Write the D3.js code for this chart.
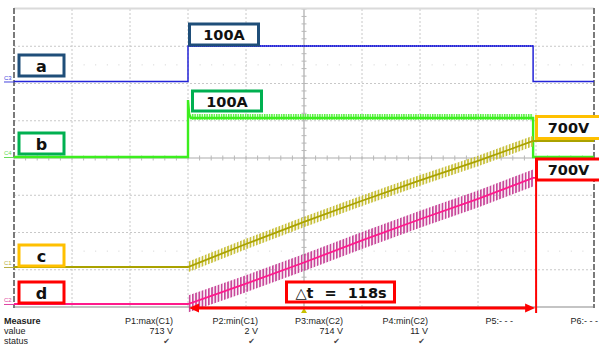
<!DOCTYPE html>
<html>
<head>
<meta charset="utf-8">
<script src="https://cdn.jsdelivr.net/npm/d3@7"></script>
<style>
body{margin:0;background:#fff;}
svg{display:block;}
</style>
</head>
<body>
<script>
// scope data (time in s, currents in A, voltages in V)
var timeA = [0, 60, 60, 179, 179, 200];
var currA = [0, 0, 100, 100, 0, 0];
var timeB = [0, 60, 60, 60.4, 61, 179, 179, 200];
var currB = [0, 0, 146, 110, 100, 100, 0, 0];
var timeC = [0, 60, 80, 100, 120, 140, 160, 179, 200];
var voltC = [0, 0, 130, 255, 375, 490, 600, 713, 713];
var timeD = [0, 60, 80, 100, 120, 140, 160, 179, 200];
var voltD = [0, 0, 115, 235, 360, 480, 595, 714, 714];
var rippleA = 3, rippleB = 10, rippleC = 30, rippleD = 48;
var rampStart = 60, rampEnd = 179;
var deltaT = "△t = 118s";

var measNames = ["P1:max(C1)", "P2:min(C1)", "P3:max(C2)", "P4:min(C2)", "P5:- - -", "P6:- - -"];
var measValues = ["713 V", "2 V", "714 V", "11 V", "", ""];
var measOk = [1, 1, 1, 1, 0, 0];

var W = 599, H = 346;
var svg = d3.select("body").append("svg").attr("width", W).attr("height", H);

var x = d3.scaleLinear().domain([0, 200]).range([14, 594]);
var yDiv = d3.scaleLinear().domain([-4, 4]).range([307, 9]);

// channel offset (div) and units per div
function chan(off, perDiv) {
    return function (v) { return yDiv(off + v / perDiv); };
}
var yA = chan(2.054, 105), yB = chan(0.027, 95.5), yC = chan(-2.926, 210.8), yD = chan(-3.919, 211);

var defs = svg.append("defs");
function stripes(id, col, w, frac) {
    var p = defs.append("pattern").attr("id", id)
        .attr("patternUnits", "userSpaceOnUse")
        .attr("width", w).attr("height", 20);
    p.append("rect").attr("x", 0).attr("y", 0).attr("width", w * frac).attr("height", 20).attr("fill", col);
}
stripes("stC", "#c4bc30", 3.2, 0.55);
stripes("stD", "#c43e94", 3.2, 0.55);
stripes("stB", "#4cf032", 2.4, 0.6);
stripes("stA", "#2a2ae0", 2.0, 0.5);

// grid
var g = svg.append("g");
d3.range(20, 200, 20).filter(function (t) { return t != 100; }).forEach(function (t) {
    g.append("line").attr("x1", x(t)).attr("x2", x(t)).attr("y1", 9).attr("y2", 307)
        .attr("stroke", "#c8c8c8").attr("stroke-dasharray", "2,2");
});
[-3, -2, -1, 1, 2, 3].forEach(function (d) {
    g.append("line").attr("x1", 14).attr("x2", 594).attr("y1", yDiv(d)).attr("y2", yDiv(d))
        .attr("stroke", "#c8c8c8").attr("stroke-dasharray", "2,2");
});
// faint mid dots
[2.5, -2.5].forEach(function (d) {
    d3.range(0.2, 10, 0.2).forEach(function (k) {
        g.append("rect").attr("x", 14 + k * 58).attr("y", yDiv(d) - 0.5).attr("width", 1).attr("height", 1).attr("fill", "#d0d0d0");
    });
});
// center axes with ticks
g.append("line").attr("x1", x(100)).attr("x2", x(100)).attr("y1", 9).attr("y2", 307).attr("stroke", "#ababab").attr("stroke-width", 1.2);
g.append("line").attr("x1", 14).attr("x2", 594).attr("y1", yDiv(0)).attr("y2", yDiv(0)).attr("stroke", "#ababab").attr("stroke-width", 1.2);
d3.range(0, 10.01, 0.2).forEach(function (k) {
    var xx = 14 + k * 58;
    g.append("line").attr("x1", xx).attr("x2", xx).attr("y1", yDiv(0) - 2.5).attr("y2", yDiv(0) + 2.5).attr("stroke", "#b8b8b8");
});
d3.range(-4, 4.01, 0.2).forEach(function (d) {
    g.append("line").attr("x1", x(100) - 2.5).attr("x2", x(100) + 2.5).attr("y1", yDiv(d)).attr("y2", yDiv(d)).attr("stroke", "#b8b8b8");
});
// borders
g.append("line").attr("x1", 14).attr("x2", 594).attr("y1", 8.5).attr("y2", 8.5).attr("stroke", "#dadada").attr("stroke-width", 2);
g.append("line").attr("x1", 14).attr("x2", 594).attr("y1", 307).attr("y2", 307).attr("stroke", "#b0b0b0").attr("stroke-width", 1.5);
[14, 594].forEach(function (xx) {
    g.append("line").attr("x1", xx).attr("x2", xx).attr("y1", 8).attr("y2", 308)
        .attr("stroke", "#7a7a7a").attr("stroke-width", 2).attr("stroke-dasharray", "6,2");
});

// traces
function drawTrace(ts, vs, yf, col, ripple, pat, width, up) {
    var pts = ts.map(function (t, i) { return [t, vs[i]]; });
    var band = pts.filter(function (p, i) {
        if (p[0] < rampStart || p[0] > rampEnd) return false;
        var same = (i > 0 && ts[i - 1] == p[0]) || (i < ts.length - 1 && ts[i + 1] == p[0]);
        return !(same && p[1] == 0);
    });
    if (up) band = band.filter(function (p) { return p[0] > rampStart + 0.5; });
    var area = d3.area()
        .x(function (p) { return x(p[0]); })
        .y0(function (p) { return yf(p[1] - (up ? ripple * 0.45 : ripple)); })
        .y1(function (p) { return yf(p[1] + ripple); });
    svg.append("path").attr("d", area(band)).attr("fill", "url(#" + pat + ")").attr("opacity", 0.95);
    var line = d3.line().x(function (p) { return x(p[0]); }).y(function (p) { return yf(p[1]); });
    svg.append("path").attr("d", line(pts)).attr("fill", "none").attr("stroke", col).attr("stroke-width", width);
}
drawTrace(timeA, currA, yA, "#2424d8", rippleA, "stA", 1.5, false);
drawTrace(timeB, currB, yB, "#3cee1e", rippleB, "stB", 2.4, true);
drawTrace(timeC, voltC, yC, "#aaa200", rippleC, "stC", 1.8, false);
drawTrace(timeD, voltD, yD, "#ff1a8c", rippleD, "stD", 1.8, false);

// channel markers
[["C3", yA(0), "#4444dd"], ["C4", yB(0), "#66dd55"], ["C1", yC(0), "#b8b040"], ["C2", yD(0), "#e040a0"]].forEach(function (m) {
    svg.append("text").attr("x", 4).attr("y", m[1] - 1.5).text(m[0])
        .attr("font-family", "Liberation Sans, Arial, sans-serif").attr("font-size", 6).attr("fill", m[2]);
    svg.append("line").attr("x1", 4).attr("x2", 14).attr("y1", m[1] + 0.5).attr("y2", m[1] + 0.5).attr("stroke", m[2]).attr("stroke-width", 1);
});
// trigger marker
svg.append("path").attr("d", "M" + (x(100) - 3) + ",313 L" + (x(100) + 3) + ",313 L" + x(100) + ",308 Z").attr("fill", "#c8c000");

// annotation boxes
var boxFont = "DejaVu Sans, Verdana, sans-serif";
function box(x0, y0, w, h, col, label, fs) {
    svg.append("rect").attr("x", x0).attr("y", y0).attr("width", w).attr("height", h)
        .attr("fill", "#fff").attr("stroke", col).attr("stroke-width", 3);
    svg.append("text").attr("x", x0 + w / 2).attr("y", y0 + h / 2 + 0.5)
        .attr("text-anchor", "middle").attr("dominant-baseline", "central")
        .attr("font-family", boxFont).attr("font-weight", "bold").attr("font-size", fs)
        .attr("fill", "#111").text(label);
}
var navy = "#1f4e79", green = "#00b050", orange = "#ffc000", red = "#ff0000";
box(19, 55, 45, 21, navy, "a", 16);
box(19, 133, 45, 21, green, "b", 16);
box(19, 245, 45, 21, orange, "c", 16);
box(19, 282, 45, 21, red, "d", 16);
box(189.5, 24, 69, 21, navy, "100A", 14.5);
box(192.5, 91, 69, 20, green, "100A", 14.5);

// delta-t arrow + marker
svg.append("line").attr("x1", x(rampEnd) + 3).attr("x2", x(rampEnd) + 3).attr("y1", 160).attr("y2", 313)
    .attr("stroke", red).attr("stroke-width", 2);
svg.append("line").attr("x1", x(rampStart) + 8).attr("x2", x(rampEnd) - 6).attr("y1", 308).attr("y2", 308)
    .attr("stroke", red).attr("stroke-width", 3);
svg.append("path").attr("d", "M" + (x(rampStart) + 1) + ",308 L" + (x(rampStart) + 11) + ",303.5 L" + (x(rampStart) + 11) + ",312.5 Z").attr("fill", red);
svg.append("path").attr("d", "M" + (x(rampEnd) + 2) + ",308 L" + (x(rampEnd) - 8) + ",303.5 L" + (x(rampEnd) - 8) + ",312.5 Z").attr("fill", red);

box(536.5, 116.5, 64, 22, orange, "700V", 14.5);
box(536.5, 159, 64, 21, red, "700V", 14.5);
box(286.5, 282, 108, 20, red, "", 14.5);
svg.append("text").attr("x", 341).attr("y", 292.5).attr("text-anchor", "middle").attr("dominant-baseline", "central")
    .attr("font-family", boxFont).attr("font-weight", "bold").attr("font-size", 14.5)
    .attr("word-spacing", 6).attr("fill", "#111").text(deltaT);

// measure table
var tf = "Liberation Sans, Arial, sans-serif";
var col = d3.scalePoint().domain(measNames).range([173, 598]);
svg.append("text").attr("x", 4).attr("y", 323.5).text("Measure").attr("font-family", tf).attr("font-size", 9).attr("font-weight", "bold").attr("fill", "#222");
svg.append("text").attr("x", 4).attr("y", 333.5).text("value").attr("font-family", tf).attr("font-size", 9).attr("fill", "#222");
svg.append("text").attr("x", 4).attr("y", 343.5).text("status").attr("font-family", tf).attr("font-size", 9).attr("fill", "#222");
measNames.forEach(function (n, i) {
    svg.append("text").attr("x", col(n)).attr("y", 323.5).attr("text-anchor", "end").text(n)
        .attr("font-family", tf).attr("font-size", 9).attr("fill", "#222");
    svg.append("text").attr("x", col(n)).attr("y", 333.5).attr("text-anchor", "end").text(measValues[i])
        .attr("font-family", tf).attr("font-size", 9).attr("fill", "#222");
    if (measOk[i]) svg.append("text").attr("x", col(n) - 3).attr("y", 343.5).attr("text-anchor", "end").text("✔")
        .attr("font-family", "DejaVu Sans, sans-serif").attr("font-size", 8).attr("fill", "#444");
});
</script>
</body>
</html>
